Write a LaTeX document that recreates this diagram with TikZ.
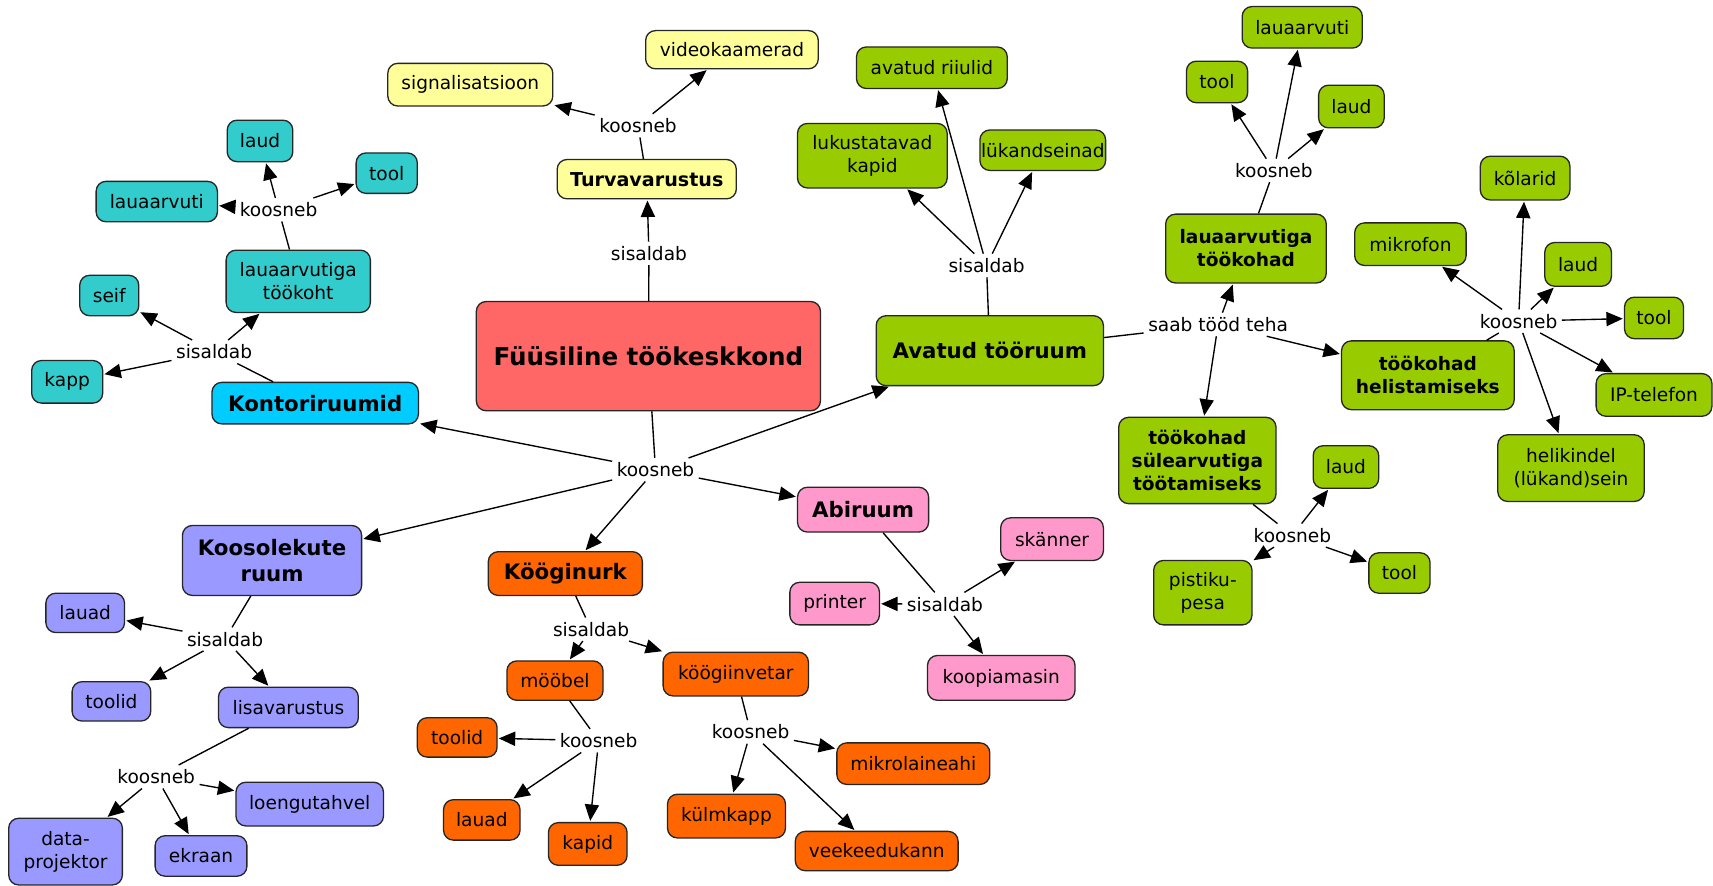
\documentclass[tikz,border=0pt]{standalone}
\usepackage{fontspec}
\setmainfont{DejaVu Sans}
\usetikzlibrary{arrows.meta}
\definecolor{cCyan}{RGB}{51,204,204}
\definecolor{cBlue}{RGB}{0,204,255}
\definecolor{cYel}{RGB}{255,255,153}
\definecolor{cRed}{RGB}{255,102,102}
\definecolor{cPur}{RGB}{153,153,255}
\definecolor{cOra}{RGB}{255,102,0}
\definecolor{cPink}{RGB}{255,153,204}
\definecolor{cGrn}{RGB}{153,204,0}
\newcommand\fnorm{\fontsize{17}{21}\selectfont}
\newcommand\fsub{\fontsize{17}{21}\selectfont\bfseries}
\newcommand\fcat{\fontsize{19.5}{24}\selectfont\bfseries}
\newcommand\ftitle{\fontsize{22.5}{27}\selectfont\bfseries}
\tikzset{
  concept/.style={draw=black!85, line width=1.2pt, rounded corners=9pt, align=center, inner sep=1pt, font=\fnorm},
  lnk/.style={font=\fnorm, inner sep=4pt},
  arr/.style={-{Triangle[length=15pt,width=13pt]}, line width=1.25pt, shorten >=1pt},
  ln/.style={line width=1.25pt},
  sz/.style 2 args={minimum width=#1pt, minimum height=#2pt},
}
\begin{document}
\begin{tikzpicture}[x=1pt,y=-1pt]
\useasboundingbox[fill=white] (0,0) rectangle (1568,811);
% ---- main
\node[concept, fill=cRed, sz={315}{100}, font=\ftitle] (main) at (593.5,326) {Füüsiline töökeskkond};
\node[lnk] (lc) at (600,430) {koosneb};
% ---- yellow
\node[concept, fill=cYel, sz={164}{36}, font=\fontsize{17.5}{21}\selectfont\bfseries] (turv) at (592,164) {Turvavarustus};
\node[concept, fill=cYel, sz={158}{35}] (vid) at (670,45.5) {videokaamerad};
\node[concept, fill=cYel, sz={151}{39}] (sig) at (430.5,77.5) {signalisatsioon};
\node[lnk] (lkt) at (584,115) {koosneb};
\node[lnk] (lst) at (594,232) {sisaldab};
% ---- cyan
\node[concept, fill=cBlue, sz={189}{38}, font=\fcat] (kontor) at (288.5,369) {Kontoriruumid};
\node[concept, fill=cCyan, sz={60}{38}] (claud) at (238,129) {laud};
\node[concept, fill=cCyan, sz={56}{37}] (ctool) at (354,158.5) {tool};
\node[concept, fill=cCyan, sz={111}{37}] (clauaarv) at (143.5,184.5) {lauaarvuti};
\node[concept, fill=cCyan, sz={132}{57}] (ctk) at (273,257.5) {lauaarvutiga\\töökoht};
\node[concept, fill=cCyan, sz={54}{37}] (cseif) at (100,270.5) {seif};
\node[concept, fill=cCyan, sz={65}{39}] (ckapp) at (61.5,349.5) {kapp};
\node[lnk] (lkc) at (255,192) {koosneb};
\node[lnk] (lsc) at (196,322) {sisaldab};
% ---- purple
\node[concept, fill=cPur, sz={164}{64}, font=\fcat] (koos) at (249,513) {Koosolekute\\ruum};
\node[concept, fill=cPur, sz={72}{36}] (plauad) at (78,561) {lauad};
\node[concept, fill=cPur, sz={72}{36}] (ptoolid) at (102,642) {toolid};
\node[concept, fill=cPur, sz={128}{37}] (plisa) at (264,647.5) {lisavarustus};
\node[concept, fill=cPur, sz={135}{40}] (ploeng) at (283.5,736) {loengutahvel};
\node[concept, fill=cPur, sz={104}{61}] (pdata) at (60,779.5) {data-\\projektor};
\node[concept, fill=cPur, sz={84}{37}] (pekraan) at (184,783.5) {ekraan};
\node[lnk] (lsp) at (206,585) {sisaldab};
\node[lnk] (lkp) at (143,711) {koosneb};
% ---- orange
\node[concept, fill=cOra, sz={141}{40}, font=\fcat] (kook) at (517.5,525) {Kööginurk};
\node[concept, fill=cOra, sz={88}{36}] (omoobel) at (508,623) {mööbel};
\node[concept, fill=cOra, sz={133}{40}] (okinv) at (673.5,617) {köögiinvetar};
\node[concept, fill=cOra, sz={73}{36}] (otoolid) at (418.5,675) {toolid};
\node[concept, fill=cOra, sz={70}{37}] (olauad) at (441,750.5) {lauad};
\node[concept, fill=cOra, sz={72}{39}] (okapid) at (538,772.5) {kapid};
\node[concept, fill=cOra, sz={140}{38}] (omikro) at (836,699) {mikrolaineahi};
\node[concept, fill=cOra, sz={108}{40}] (okulm) at (665,747) {külmkapp};
\node[concept, fill=cOra, sz={149}{36}] (oveek) at (802.5,779) {veekeedukann};
\node[lnk] (lso) at (541,576) {sisaldab};
\node[lnk] (lko1) at (548,678) {koosneb};
\node[lnk] (lko2) at (687,670) {koosneb};
% ---- pink
\node[concept, fill=cPink, sz={120}{41}, font=\fcat] (abi) at (790,466.5) {Abiruum};
\node[concept, fill=cPink, sz={94}{39}] (kskan) at (963,493.5) {skänner};
\node[concept, fill=cPink, sz={82}{39}] (kprint) at (764,552.5) {printer};
\node[concept, fill=cPink, sz={135}{41}] (kkoop) at (916.5,620.5) {koopiamasin};
\node[lnk] (lsk) at (865,553) {sisaldab};
% ---- green
\node[concept, fill=cGrn, sz={208}{64}, font=\fcat] (avatud) at (906,321) {Avatud tööruum};
\node[concept, fill=cGrn, sz={138}{38}] (griiul) at (853,62) {avatud riiulid};
\node[concept, fill=cGrn, sz={137}{59}] (glukus) at (798.5,142.5) {lukustatavad\\kapid};
\node[concept, fill=cGrn, sz={111}{37}] (glukand) at (954.5,137.5) {lükandseinad};
\node[concept, fill=cGrn, sz={147}{63}, font=\fsub] (glaua) at (1140.5,227.5) {lauaarvutiga\\töökohad};
\node[concept, fill=cGrn, sz={56}{38}] (gtool1) at (1114,75) {tool};
\node[concept, fill=cGrn, sz={110}{38}] (glauaarv) at (1192,25) {lauaarvuti};
\node[concept, fill=cGrn, sz={60}{39}] (glaud1) at (1237,97.5) {laud};
\node[concept, fill=cGrn, sz={158}{63}, font=\fsub] (ghel) at (1307,343.5) {töökohad\\helistamiseks};
\node[concept, fill=cGrn, sz={82}{40}] (gkolar) at (1396,163) {kõlarid};
\node[concept, fill=cGrn, sz={102}{39}] (gmikro) at (1291,223.5) {mikrofon};
\node[concept, fill=cGrn, sz={61}{40}] (glaud2) at (1444.5,242) {laud};
\node[concept, fill=cGrn, sz={54}{38}] (gtool2) at (1514,291) {tool};
\node[concept, fill=cGrn, sz={106}{39}] (gip) at (1514,361.5) {IP-telefon};
\node[concept, fill=cGrn, sz={134}{61}] (gheli) at (1438,428.5) {helikindel\\(lükand)sein};
\node[concept, fill=cGrn, sz={144}{79}, font=\fsub] (gsul) at (1096,421.5) {töökohad\\sülearvutiga\\töötamiseks};
\node[concept, fill=cGrn, sz={60}{39}] (glaud3) at (1232,427.5) {laud};
\node[concept, fill=cGrn, sz={56}{37}] (gtool3) at (1281,524.5) {tool};
\node[concept, fill=cGrn, sz={90}{59}] (gpist) at (1101,542.5) {pistiku-\\pesa};
\node[lnk] (lsg) at (903,243) {sisaldab};
\node[lnk] (lsaab) at (1115,297) {saab tööd teha};
\node[lnk] (lkg1) at (1166,156) {koosneb};
\node[lnk] (lkg2) at (1390,294) {koosneb};
\node[lnk] (lkg3) at (1183,490) {koosneb};
% ---- connectors
\draw[ln] (main) -- (lc);
\draw[arr] (lc) -- (kontor);
\draw[arr] (lc) -- (avatud);
\draw[arr] (lc) -- (koos);
\draw[arr] (lc) -- (kook);
\draw[arr] (lc) -- (abi);
\draw[ln] (main) -- (lst);
\draw[arr] (lst) -- (turv);
\draw[ln] (turv) -- (lkt);
\draw[arr] (lkt) -- (sig);
\draw[arr] (lkt) -- (vid);
\draw[ln] (kontor) -- (lsc);
\draw[arr] (lsc) -- (ckapp);
\draw[arr] (lsc) -- (cseif);
\draw[arr] (lsc) -- (ctk);
\draw[ln] (ctk) -- (lkc);
\draw[arr] (lkc) -- (clauaarv);
\draw[arr] (lkc) -- (claud);
\draw[arr] (lkc) -- (ctool);
\draw[ln] (koos) -- (lsp);
\draw[arr] (lsp) -- (plauad);
\draw[arr] (lsp) -- (ptoolid);
\draw[arr] (lsp) -- (plisa);
\draw[ln] (plisa) -- (lkp);
\draw[arr] (lkp) -- (pdata);
\draw[arr] (lkp) -- (pekraan);
\draw[arr] (lkp) -- (ploeng);
\draw[ln] (kook) -- (lso);
\draw[arr] (lso) -- (omoobel);
\draw[arr] (lso) -- (okinv);
\draw[ln] (omoobel) -- (lko1);
\draw[arr] (lko1) -- (otoolid);
\draw[arr] (lko1) -- (olauad);
\draw[arr] (lko1) -- (okapid);
\draw[ln] (okinv) -- (lko2);
\draw[arr] (lko2) -- (okulm);
\draw[arr] (lko2) -- (oveek);
\draw[arr] (lko2) -- (omikro);
\draw[ln] (abi) -- (lsk);
\draw[arr] (lsk) -- (kprint);
\draw[arr] (lsk) -- (kskan);
\draw[arr] (lsk) -- (kkoop);
\draw[ln] (avatud) -- (lsg);
\draw[arr] (lsg) -- (glukus);
\draw[arr] (lsg) -- (griiul);
\draw[arr] (lsg) -- (glukand);
\draw[ln] (avatud) -- (lsaab);
\draw[arr] (lsaab) -- (glaua);
\draw[arr] (lsaab) -- (ghel);
\draw[arr] (lsaab) -- (gsul);
\draw[ln] (glaua) -- (lkg1);
\draw[arr] (lkg1) -- (gtool1);
\draw[arr] (lkg1) -- (glauaarv);
\draw[arr] (lkg1) -- (glaud1);
\draw[ln] (ghel) -- (lkg2);
\draw[arr] (lkg2) -- (gkolar);
\draw[arr] (lkg2) -- (gmikro);
\draw[arr] (lkg2) -- (glaud2);
\draw[arr] (lkg2) -- (gtool2);
\draw[arr] (lkg2) -- (gip);
\draw[arr] (lkg2) -- (gheli);
\draw[ln] (gsul) -- (lkg3);
\draw[arr] (lkg3) -- (glaud3);
\draw[arr] (lkg3) -- (gtool3);
\draw[arr] (lkg3) -- (gpist);
\end{tikzpicture}
\end{document}
